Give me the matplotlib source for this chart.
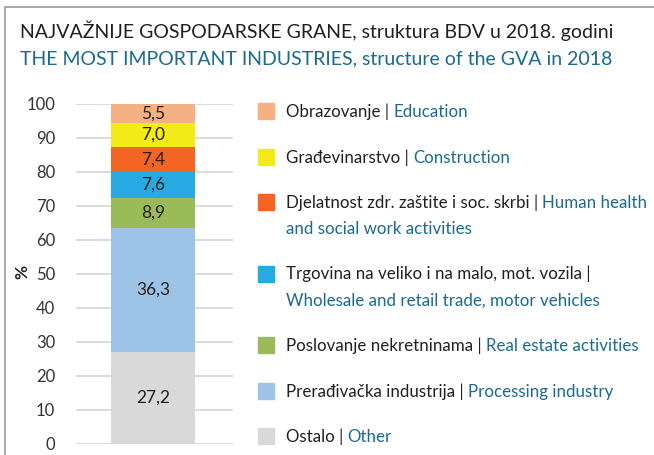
import matplotlib
matplotlib.use("Agg")
import matplotlib.pyplot as plt
from matplotlib.lines import Line2D

plt.rcParams['font.family'] = ['Lato', 'DejaVu Sans']

# stacked from the bottom up
sectors_hr = ["Ostalo | ", "Prerađivačka industrija | ", "Poslovanje nekretninama | ",
              "Trgovina na veliko i na malo, mot. vozila |",
              "Djelatnost zdr. zaštite i soc. skrbi | ", "Građevinarstvo | ", "Obrazovanje | "]
sectors_en = ["Other", "Processing industry", "Real estate activities",
              "\nWholesale and retail trade, motor vehicles",
              "Human health\nand social work activities", "Construction", "Education"]
shares = [27.2, 36.3, 8.9, 7.6, 7.4, 7.0, 5.5]
colors = ["#d9d9d9", "#9dc3e6", "#9bbb59", "#27aae1", "#f26522", "#f3eb17", "#f5b183"]
yticks = list(range(0, 101, 10))

DARK = "#231f20"
BLUE = "#1a6a91"
W, H = 654, 455

fig = plt.figure(figsize=(W / 100, H / 100), dpi=100)
renderer = fig.canvas.get_renderer()

# frame line at top and left
fig.add_artist(Line2D([5 / W, 5 / W, 1], [0, 1 - 7 / H, 1 - 7 / H], color="#9e9894", lw=1.2))

fig.text(20 / W, 1 - 38 / H, "NAJVAŽNIJE GOSPODARSKE GRANE, struktura BDV u 2018. godini",
         fontsize=14, color=DARK, va="baseline")
fig.text(20 / W, 1 - 64 / H, "THE MOST IMPORTANT INDUSTRIES, structure of the GVA in 2018",
         fontsize=14, color=BLUE, va="baseline")

ax = fig.add_axes([76 / W, 11 / H, 157 / W, 340 / H])
bottom = 0
for v, c in zip(shares, colors):
    ax.bar(0, v, bottom=bottom, width=0.535, color=c, zorder=3)
    ax.text(0, bottom + v / 2, f"{v:.1f}".replace(".", ","), ha="center", va="center",
            fontsize=12.5, color=DARK, zorder=4)
    bottom += v

ax.set_xlim(-0.49, 0.51)
ax.set_ylim(0, 100)
ax.set_yticks(yticks)
ax.set_xticks([])
ax.tick_params(axis="y", length=0, pad=15, labelsize=12, labelcolor="#333333")
ax.grid(axis="y", color="#d9d9d9", lw=1.3, zorder=0)
for s in ax.spines.values():
    s.set_visible(False)

fig.text(22 / W, 1 - 272 / H, "%", rotation=90, ha="center", va="center",
         fontsize=12.5, fontweight="bold", color=DARK)

# legend, top to bottom
fs = 12.2
y = 111
for hr, en, c in zip(sectors_hr[::-1], sectors_en[::-1], colors[::-1]):
    fig.add_artist(plt.Rectangle((258 / W, 1 - (y + 8) / H), 16 / W, 16 / H, color=c))
    parts = en.split("\n")
    t = fig.text(286 / W, 1 - (y + 6) / H, hr, fontsize=fs, color=DARK, va="baseline")
    if parts[0]:
        x1 = t.get_window_extent(renderer).x1
        fig.text(x1 / W, 1 - (y + 6) / H, parts[0], fontsize=fs, color=BLUE, va="baseline")
    for line in parts[1:]:
        y += 26
        fig.text(286 / W, 1 - (y + 6) / H, line, fontsize=fs, color=BLUE, va="baseline")
    y += 45.5

fig.savefig("out.png", dpi=100)
